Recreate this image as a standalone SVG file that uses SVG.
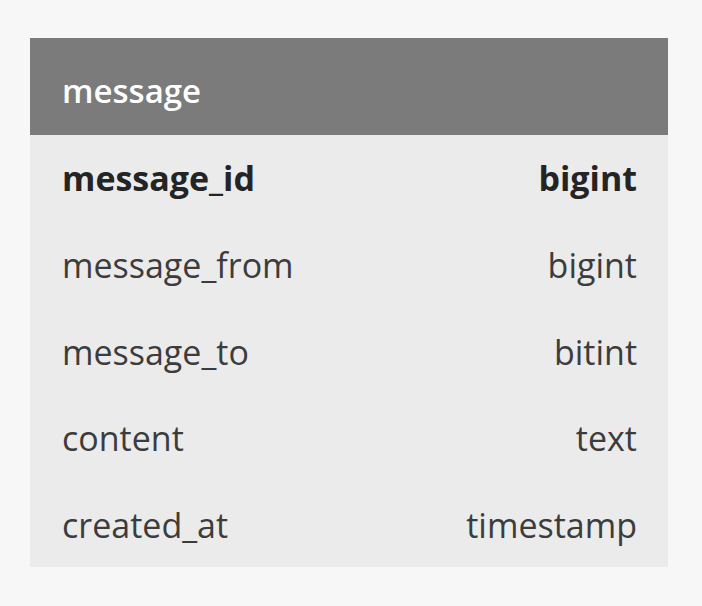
<svg xmlns="http://www.w3.org/2000/svg" width="702" height="606" viewBox="0 0 702 606">
  <style>
    .t { font-family: "Open Sans", "Liberation Sans", sans-serif; font-size: 34px; fill: #3c3c3c; }
    .b { font-weight: bold; fill: #242424; }
    .h { font-family: "Open Sans", "Liberation Sans", sans-serif; font-size: 33px; font-weight: 600; fill: #ffffff; }
    .r { text-anchor: end; }
  </style>
  <rect width="702" height="606" fill="#f7f7f7"/>
  <g id="table-message">
    <rect x="30" y="135" width="638" height="432" fill="#ebebeb"/>
    <rect x="30" y="38" width="638" height="97" fill="#7b7b7b"/>
    <text class="h" x="62" y="103">message</text>
    <text class="t b" x="62" y="191">message_id</text>
    <text class="t b r" x="637" y="191">bigint</text>
    <text class="t" x="62" y="278">message_from</text>
    <text class="t r" x="637" y="278">bigint</text>
    <text class="t" x="62" y="365">message_to</text>
    <text class="t r" x="637" y="365">bitint</text>
    <text class="t" x="62" y="451">content</text>
    <text class="t r" x="637" y="451">text</text>
    <text class="t" x="62" y="538">created_at</text>
    <text class="t r" x="637" y="538">timestamp</text>
  </g>
</svg>
